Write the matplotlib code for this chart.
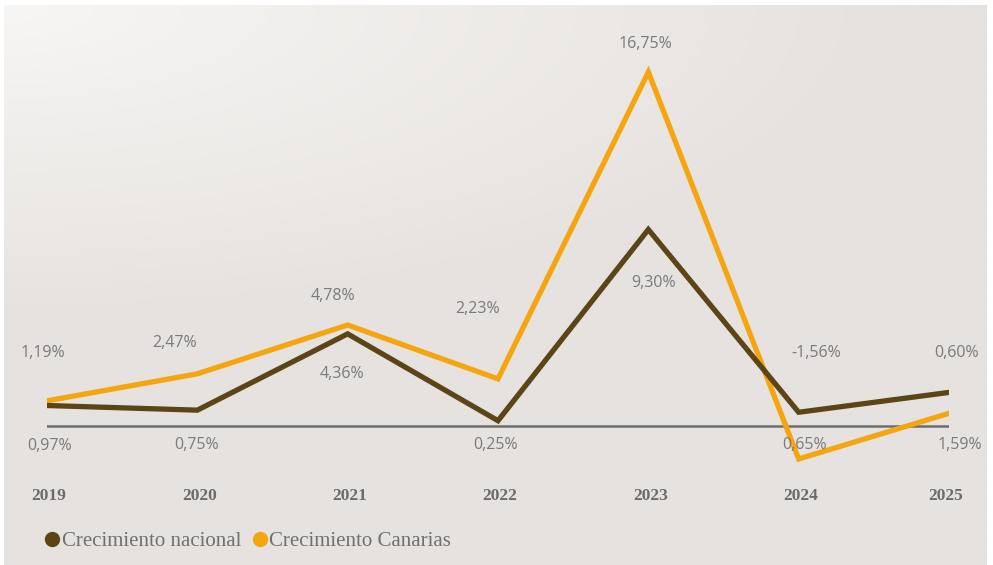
import numpy as np
import matplotlib
matplotlib.use("Agg")
import matplotlib.pyplot as plt
from matplotlib.lines import Line2D

years = ["2019", "2020", "2021", "2022", "2023", "2024", "2025"]
nacional = [0.97, 0.75, 4.36, 0.25, 9.30, 0.65, 1.59]
canarias = [1.19, 2.47, 4.78, 2.23, 16.75, -1.56, 0.60]

BROWN = "#5b4516"
ORANGE = "#f5a50f"
GREY = "#7a7a7a"
ZERO = "#6e6e6e"

# label offsets in pixels (dx, dy) relative to each point
off_nac = [(3, -40), (-1, -35), (-6, -40), (-2, -24), (5, -54), (6, -33), (11, -53)]
off_can = [(-4, 48), (-23, 31), (-15, 29), (-20, 70), (-3, 28), (18, 106), (8, 60)]

W, H = 993, 565
fig = plt.figure(figsize=(W / 100, H / 100), dpi=100)
fig.patch.set_facecolor("white")

# background panel with soft gradient from the top-left corner
bg = fig.add_axes([4 / W, 0, (987 - 4) / W, (H - 5) / H])
bg.axis("off")
gx, gy = np.meshgrid(np.linspace(0, 1, 300), np.linspace(0, 1, 200))
t = np.clip(np.sqrt((gx * 1.0) ** 2 + (gy * 1.6) ** 2) / 0.9, 0, 1)
c0 = np.array([247, 246, 244]) / 255
c1 = np.array([230, 226, 223]) / 255
img = c0[None, None, :] * (1 - t[..., None]) + c1[None, None, :] * t[..., None]
bg.imshow(img, aspect="auto", extent=[0, 1, 0, 1], origin="upper")

y0px, ppu = 426, 21.13
ymin, ymax = -3, 18
bottom_px = y0px + (-ymin) * ppu
ax = fig.add_axes([47 / W, (H - bottom_px) / H, 902 / W, (ymax - ymin) * ppu / H])
ax.patch.set_alpha(0)
ax.set_xlim(0, 6)
ax.set_ylim(ymin, ymax)
ax.axis("off")

x = np.arange(len(years))
ax.plot([0, 6], [0, 0], color=ZERO, lw=1.8, zorder=1)
ax.plot(x, nacional, color=BROWN, lw=3.8, zorder=3, solid_joinstyle="miter")
ax.plot(x, canarias, color=ORANGE, lw=3.8, zorder=2, solid_joinstyle="miter")

def fmt(v):
    return f"{v:.2f}".replace(".", ",") + "%"

for xi, v, (dx, dy) in zip(x, nacional, off_nac):
    ax.annotate(fmt(v), (xi, v), xytext=(dx, dy), textcoords="offset pixels",
                ha="center", va="center", fontsize=11.5, color=GREY,
                family="Open Sans", annotation_clip=False, zorder=5)
for xi, v, (dx, dy) in zip(x, canarias, off_can):
    ax.annotate(fmt(v), (xi, v), xytext=(dx, dy), textcoords="offset pixels",
                ha="center", va="center", fontsize=11.5, color=GREY,
                family="Open Sans", annotation_clip=False, zorder=5)

for xi, yr in zip(x, years):
    ax.annotate(yr, (xi, 0), xytext=(2 if xi < 6 else -3, -70), textcoords="offset pixels",
                ha="center", va="center", fontsize=12.5, fontweight="bold",
                color="#6b6b6b", family="Liberation Serif", annotation_clip=False)

handles = [Line2D([], [], ls="none", marker="o", ms=10, color=BROWN),
           Line2D([], [], ls="none", marker="o", ms=10, color=ORANGE)]
fig.legend(handles, ["Crecimiento nacional", "Crecimiento Canarias"],
           loc="center left", bbox_to_anchor=(46 / W, 1 - 541 / H), ncol=2,
           frameon=False, handlelength=0.6, handletextpad=0.15, columnspacing=0.6,
           borderaxespad=0, borderpad=0,
           prop={"family": "Liberation Serif", "size": 15}, labelcolor="#707070")

fig.savefig("out.png", dpi=100)
